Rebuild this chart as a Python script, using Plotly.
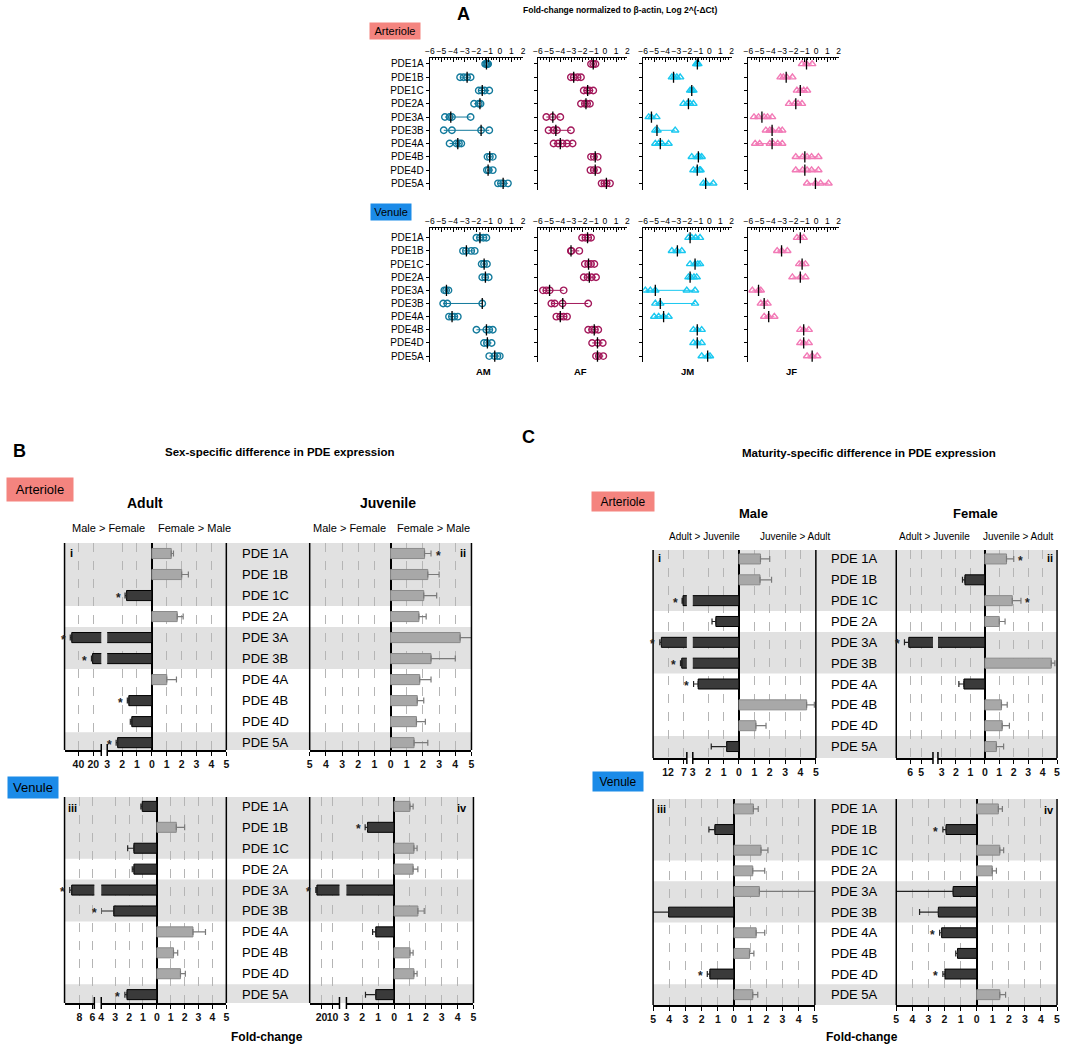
import math
import plotly.graph_objects as go

W, H = 1065, 1046
FONT = "Liberation Sans, Arial, sans-serif"

# ---------------- data ----------------
genes_a = ["PDE1A", "PDE1B", "PDE1C", "PDE2A", "PDE3A", "PDE3B", "PDE4A", "PDE4B", "PDE4D", "PDE5A"]
genes_b = ["PDE 1A", "PDE 1B", "PDE 1C", "PDE 2A", "PDE 3A", "PDE 3B", "PDE 4A", "PDE 4B", "PDE 4D", "PDE 5A"]
groups = ["AM", "AF", "JM", "JF"]
ticks_a = [-6, -5, -4, -3, -2, -1, 0, 1, 2]

# Panel A - arteriole (log2 fold change, individual animals and mean)
art_am_pts = [[-1.25, -1.15, -1.05, -1.0], [-3.4, -3.1, -2.8, -2.5], [-1.8, -1.55, -1.3, -0.9], [-2.2, -1.8, -1.65],
              [-4.7, -4.3, -4.1, -2.5], [-4.8, -4.1, -1.6, -0.9], [-4.3, -3.7, -3.5, -3.3], [-1.05, -0.85, -0.6],
              [-1.1, -0.95, -0.6], [-0.15, 0.1, 0.3, 0.7]]
art_am_mean = [-1.14, -2.8, -1.5, -1.7, -4.2, -1.6, -3.6, -0.86, -1.0, 0.29]
art_af_pts = [[-1.25, -1.05, -0.85], [-3.05, -2.8, -2.45, -2.15], [-1.9, -1.6, -1.4, -1.05], [-2.15, -1.8, -1.6, -1.35],
              [-5.25, -4.7, -4.0], [-5.05, -4.6, -4.3, -3.05], [-4.6, -4.2, -3.8, -3.4, -2.9], [-1.25, -1.0, -0.65],
              [-1.3, -1.0, -0.65], [-0.3, -0.05, 0.15, 0.45]]
art_af_mean = [-1.05, -2.8, -1.55, -1.7, -4.67, -4.4, -4.0, -0.87, -0.87, 0.13]
art_jm_pts = [[-1.2, -1.1, -1.0], [-3.4, -3.2, -2.95, -2.65], [-1.75, -1.6, -1.45], [-2.35, -2.0, -1.75, -1.45],
              [-5.5, -5.25, -4.8], [-4.9, -4.7, -3.1], [-4.9, -4.6, -4.3, -3.7], [-1.6, -1.1, -0.9, -0.7],
              [-1.45, -1.15, -0.9, -0.8], [-0.55, -0.3, 0.35]]
art_jm_mean = [-1.09, -3.25, -1.6, -1.9, -5.25, -4.75, -4.45, -1.0, -1.1, -0.34]
art_jf_pts = [[-1.25, -0.85, -0.35], [-3.15, -2.9, -2.6, -2.1], [-1.7, -1.4, -1.1, -0.8], [-2.4, -1.9, -1.6, -1.25],
              [-5.5, -5.1, -4.6, -4.3, -3.9], [-4.45, -4.1, -3.9, -3.3, -3.0], [-5.4, -5.0, -4.1, -3.8, -3.4, -3.0],
              [-1.8, -1.2, -0.8, -0.4, 0.2], [-1.8, -1.2, -0.8, -0.4, 0.2], [-0.8, -0.05, 0.4, 1.1]]
art_jf_mean = [-0.85, -2.65, -1.4, -1.8, -4.8, -3.9, -3.9, -1.0, -1.0, -0.06]

# Panel A - venule
ven_am_pts = [[-2.0, -1.7, -1.4, -1.15], [-3.15, -2.9, -2.45, -2.15], [-1.55, -1.35, -1.1], [-1.5, -1.25, -0.95],
              [-4.75, -4.6, -4.4], [-4.85, -4.5, -1.5], [-4.35, -4.1, -3.9, -3.6], [-2.0, -1.15, -0.9, -0.6],
              [-1.35, -1.1, -0.7], [-0.9, -0.45, -0.2, 0.0]]
ven_am_mean = [-1.7, -2.86, -1.34, -1.23, -4.57, -1.5, -4.09, -1.14, -1.06, -0.43]
ven_af_pts = [[-2.05, -1.75, -1.5, -1.25], [-3.05, -3.0, -2.3], [-1.8, -1.5, -1.25, -0.95], [-1.9, -1.55, -1.2, -0.8],
              [-5.55, -5.25, -4.95, -3.7], [-4.8, -4.5, -3.8, -1.5], [-4.35, -4.0, -3.7, -3.4], [-1.5, -1.15, -0.9, -0.6],
              [-1.15, -0.65, -0.2], [-0.8, -0.55, -0.15]]
ven_af_mean = [-1.56, -3.04, -1.47, -1.4, -4.96, -3.78, -4.0, -0.96, -0.67, -0.67]
ven_jm_pts = [[-1.9, -1.6, -1.25, -0.85], [-3.4, -2.95, -2.5], [-1.75, -1.3, -1.05, -0.85], [-1.9, -1.7, -1.4, -1.15],
              [-5.8, -5.35, -4.9, -2.05, -1.3], [-4.9, -4.45, -1.3], [-5.0, -4.6, -4.15, -3.7], [-1.45, -1.1, -0.7],
              [-1.45, -1.1, -0.7], [-0.7, -0.15, 0.05]]
ven_jm_mean = [-1.75, -2.9, -1.3, -1.75, -4.9, -4.45, -4.15, -1.1, -1.1, -0.16]
ven_jf_pts = [[-1.7, -1.4, -1.1], [-3.45, -3.05, -2.55], [-1.5, -1.25, -0.95], [-2.1, -1.4, -0.95],
              [-5.65, -5.1, -4.9], [-4.9, -4.6, -4.3], [-4.6, -4.2, -3.7], [-1.4, -1.1, -0.65],
              [-1.4, -1.1, -0.65], [-0.8, -0.35, 0.1]]
ven_jf_mean = [-1.4, -3.06, -1.24, -1.4, -5.1, -4.6, -4.2, -1.1, -1.1, -0.35]

# Panel B - sex-specific fold change (negative = Male > Female)
b_art_adult_val = [1.3, 2.0, -1.7, 1.7, -49.0, -21.0, 1.0, -1.55, -1.35, -2.3]
b_art_adult_err = [0.15, 0.45, 0.1, 0.4, 2.0, 1.5, 0.65, 0.1, 0.1, 0.1]
b_art_adult_sig = [0, 0, 1, 0, 1, 1, 0, 1, 0, 1]
b_art_juv_val = [2.1, 2.3, 2.05, 1.75, 4.3, 2.5, 1.8, 1.65, 1.6, 1.45]
b_art_juv_err = [0.4, 0.7, 0.8, 0.45, 1.5, 1.5, 0.7, 0.4, 0.55, 0.85]
b_art_juv_sig = [1, 0, 0, 0, 0, 0, 0, 0, 0, 0]
b_ven_adult_val = [-1.05, 1.4, -1.65, -1.65, -9.2, -3.1, 2.6, 1.2, 1.7, -2.15]
b_ven_adult_err = [0.1, 0.6, 0.45, 0.12, 0.3, 0.9, 0.9, 0.3, 0.35, 0.15]
b_ven_adult_sig = [0, 0, 0, 0, 1, 1, 0, 0, 0, 1]
b_ven_juv_val = [1.0, -1.67, 1.25, 1.2, -24.3, 1.5, -1.15, 1.0, 1.25, -1.15]
b_ven_juv_err = [0.2, 0.15, 0.2, 0.3, 1.0, 0.4, 0.2, 0.2, 0.2, 0.65]
b_ven_juv_sig = [0, 1, 0, 0, 1, 0, 0, 0, 0, 0]

# Panel C - maturity-specific fold change (negative = Adult > Juvenile)
c_art_male_val = [1.4, 1.37, -7.3, -1.5, -14.1, -7.7, -2.65, 4.4, 1.1, -0.8]
c_art_male_err = [0.6, 0.75, 0.3, 0.25, 0.5, 0.4, 0.3, 0.5, 0.66, 1.0]
c_art_male_sig = [0, 0, 1, 0, 1, 1, 1, 0, 0, 0]
c_art_fem_val = [1.5, -1.38, 1.9, 1.0, -6.14, 4.6, -1.45, 1.15, 1.2, 0.8]
c_art_fem_err = [0.5, 0.17, 0.6, 0.4, 0.4, 0.25, 0.35, 0.4, 0.5, 0.5]
c_art_fem_sig = [1, 0, 1, 0, 1, 0, 0, 0, 0, 0]
c_ven_male_val = [1.2, -1.18, 1.67, 1.16, 1.57, -4.04, 1.37, 0.96, -1.49, 1.16]
c_ven_male_err = [0.3, 0.37, 0.43, 0.74, 6.0, 2.0, 0.53, 0.27, 0.16, 0.31]
c_ven_male_sig = [0, 0, 0, 0, 0, 0, 0, 0, 1, 0]
c_ven_fem_val = [1.35, -1.9, 1.44, 0.97, -1.46, -2.38, -2.18, -1.19, -1.97, 1.44]
c_ven_fem_err = [0.25, 0.2, 0.24, 0.26, 6.0, 1.17, 0.12, 0.11, 0.13, 0.36]
c_ven_fem_sig = [0, 1, 0, 0, 0, 0, 1, 0, 1, 0]

# ---------------- helpers ----------------
def px(x):
    return x / W


def py(y):
    return 1 - y / H


fig = go.Figure()
lay = {}
cnt = {"x": 0, "y": 0}
anns = []
shapes = []


def new_axis(kind, spec):
    cnt[kind] += 1
    n = cnt[kind]
    key = f"{kind}axis" if n == 1 else f"{kind}axis{n}"
    lay[key] = spec
    return (kind if n == 1 else f"{kind}{n}"), key


def txt(s, x, y, size=11, bold=False, xanchor="center", **kw):
    anns.append(dict(text=f"<b>{s}</b>" if bold else s, x=px(x), y=py(y), xref="paper", yref="paper",
                     showarrow=False, xanchor=xanchor, yanchor="middle",
                     font=dict(size=size, color="black", family=FONT), **kw))


def vline(x, y0, y1, width=1.5):
    shapes.append(dict(type="line", xref="paper", yref="paper", x0=px(x), x1=px(x), y0=py(y0), y1=py(y1),
                       line=dict(color="black", width=width)))


# ---------------- Panel A ----------------
A_cols = [(428, 522), (537, 627), (643, 732), (749, 840)]
A_rows = [
    (58, 190, [9.5, -0.45], [art_am_pts, art_af_pts, art_jm_pts, art_jf_pts],
     [art_am_mean, art_af_mean, art_jm_mean, art_jf_mean]),
    (228, 362, [9.45, -0.74], [ven_am_pts, ven_af_pts, ven_jm_pts, ven_jf_pts],
     [ven_am_mean, ven_af_mean, ven_jm_mean, ven_jf_mean]),
]
A_colors = ["#137a9c", "#a3195b", "#19c8f0", "#f27ab6"]
A_symbols = ["circle-open", "circle-open", "triangle-up-open", "triangle-up-open"]

for top, bot, yr, pts_list, mean_list in A_rows:
    for g in range(4):
        x0, x1 = A_cols[g]
        xname, xkey = new_axis("x", dict(
            domain=[px(x0), px(x1)], range=[-6, 2], side="top", tickmode="array", tickvals=ticks_a,
            tickangle=0, ticks="inside", ticklen=4, tickcolor="black", tickwidth=1,
            minor=dict(ticks="inside", ticklen=2, dtick=0.25, tick0=-6, tickcolor="black", showgrid=False),
            showline=True, linecolor="black", linewidth=1.2, showgrid=False, zeroline=False,
            tickfont=dict(size=8.5, color="black", family=FONT)))
        yname, ykey = new_axis("y", dict(
            domain=[py(bot), py(top)], range=yr, tickmode="array", tickvals=list(range(10)), ticktext=genes_a,
            showticklabels=(g == 0), ticks="outside", ticklen=3, tickcolor="black",
            showline=True, linecolor="black", linewidth=1.2, showgrid=False, zeroline=False,
            tickfont=dict(size=10, color="black", family=FONT)))
        lay[xkey]["anchor"] = yname
        lay[ykey]["anchor"] = xname
        xs, ys = [], []
        for i, p in enumerate(pts_list[g]):
            xs += p + [None]
            ys += [i] * len(p) + [None]
        c = A_colors[g]
        fig.add_trace(go.Scatter(x=xs, y=ys, xaxis=xname, yaxis=yname, mode="lines+markers",
                                 line=dict(color=c, width=1),
                                 marker=dict(symbol=A_symbols[g], size=6.5, color=c, line=dict(width=1.4, color=c)),
                                 hoverinfo="skip"))
        fig.add_trace(go.Scatter(x=mean_list[g], y=list(range(10)), xaxis=xname, yaxis=yname, mode="markers",
                                 marker=dict(symbol="line-ns-open", size=8, color="black",
                                             line=dict(width=1.3, color="black")),
                                 hoverinfo="skip"))

txt("A", 462, 14, 18, bold=True)
txt("Fold-change normalized to β-actin, Log 2^(-ΔCt)", 620, 10, 8.5, bold=True)
txt("Arteriole", 393, 31, 11, bgcolor="#f4847f", borderpad=2, width=46, height=12)
txt("Venule", 389, 212, 11, bgcolor="#1b8be8", borderpad=2, width=36, height=12)
for g, cx in zip(groups, [482, 580, 688, 792]):
    txt(g, cx, 372, 9.5, bold=True)

# ---------------- Panels B & C ----------------
TICKFONT_B = dict(size=10.5, color="#111", family=FONT, weight="bold")


def bar_panel(vals, errs, sig, top, bot, yr, main, broken=None):
    yname, ykey = new_axis("y", dict(domain=[py(bot), py(top)], range=yr, visible=False, showgrid=False,
                                     zeroline=False))
    mx0, mx1, mrng = main
    tv = list(range(math.ceil(mrng[0]), math.floor(mrng[1]) + 1))
    xm, _ = new_axis("x", dict(
        domain=[px(mx0), px(mx1)], range=mrng, anchor=yname, tickmode="array", tickvals=tv,
        ticktext=[str(abs(t)) for t in tv], tickangle=0, ticks="outside", ticklen=4, tickcolor="black",
        showline=True, linecolor="black", linewidth=1.5, showgrid=True, gridcolor="#b5b5b5",
        griddash="dash", gridwidth=1, zeroline=True, zerolinecolor="black", zerolinewidth=1.5,
        tickfont=TICKFONT_B))
    xaxes = [xm]
    left = mx0
    xb = None
    if broken:
        bx0, bx1, brng, bticks = broken
        xb, _ = new_axis("x", dict(
            domain=[px(bx0), px(bx1)], range=brng, anchor=yname, tickmode="array", tickvals=bticks,
            ticktext=[str(abs(t)) for t in bticks], tickangle=0, ticks="outside", ticklen=4, tickcolor="black",
            showline=True, linecolor="black", linewidth=1.5, showgrid=True, gridcolor="#b5b5b5",
            griddash="dash", gridwidth=1, zeroline=False, tickfont=TICKFONT_B))
        xaxes.append(xb)
        left = bx0
        for bxp in (bx1, mx0):
            vline(bxp, bot - 6, bot + 6, 1.5)
    lay[ykey]["anchor"] = xaxes[-1]
    rows = list(range(len(vals)))
    neg_x = [v if v < 0 else None for v in vals]
    pos_x = [v if v >= 0 else None for v in vals]
    neg_e = [e if v < 0 else 0 for v, e in zip(vals, errs)]
    pos_e = [e if v >= 0 else 0 for v, e in zip(vals, errs)]
    zeros = [0] * len(vals)
    for xa in xaxes:
        fig.add_trace(go.Bar(x=neg_x, y=rows, orientation="h", xaxis=xa, yaxis=yname, width=0.48,
                             marker=dict(color="#3a3a3a", line=dict(color="black", width=1)),
                             error_x=dict(type="data", symmetric=False, array=zeros, arrayminus=neg_e,
                                          color="#222222", thickness=1.2, width=3),
                             hoverinfo="skip"))
        fig.add_trace(go.Bar(x=pos_x, y=rows, orientation="h", xaxis=xa, yaxis=yname, width=0.48,
                             marker=dict(color="#a8a8a8", line=dict(color="#8a8a8a", width=1)),
                             error_x=dict(type="data", symmetric=False, array=pos_e, arrayminus=zeros,
                                          color="#7a7a7a", thickness=1.2, width=3),
                             hoverinfo="skip"))
    for i, (v, e, s) in enumerate(zip(vals, errs, sig)):
        if not s:
            continue
        end = v - e if v < 0 else v + e
        xa = xb if (xb is not None and end < mrng[0]) else xm
        anns.append(dict(text="<b>*</b>", x=end, y=i, xref=xa, yref=yname, showarrow=False,
                         xshift=-7 if v < 0 else 7, yshift=-2, font=dict(size=12, color="#222", family=FONT)))
    vline(left, top, bot)
    vline(mx1, top, bot)
    return yname


def row_decor(yname, yr, x0, x1, label_x):
    bands = [(-0.5, 2.5), (3.5, 5.5), (8.5, 9.5)]
    for k, (b0, b1) in enumerate(bands):
        y0 = yr[1] if k == 0 else b0
        y1 = yr[0] if k == len(bands) - 1 else b1
        shapes.append(dict(type="rect", xref="paper", yref=yname, x0=px(x0), x1=px(x1), y0=y0, y1=y1,
                           fillcolor="#e1e1e1", line=dict(width=0), layer="below"))
    for i, gname in enumerate(genes_b):
        anns.append(dict(text=gname, x=px(label_x), y=i, xref="paper", yref=yname, showarrow=False,
                         xanchor="left", font=dict(size=13, color="black", family=FONT)))


# B arteriole
yb1 = bar_panel(b_art_adult_val, b_art_adult_err, b_art_adult_sig, 543, 750, [9.35, -0.5],
                (103, 223, [-3, 5]), (60, 97, [-58.7, -9.3], [-40, -20]))
bar_panel(b_art_juv_val, b_art_juv_err, b_art_juv_sig, 543, 750, [9.35, -0.5], (307, 470, [-5, 5]))
row_decor(yb1, [9.35, -0.5], 60, 470, 237)
# B venule
yb2 = bar_panel(b_ven_adult_val, b_ven_adult_err, b_ven_adult_sig, 797, 1003, [9.4, -0.45],
                (97, 223, [-4, 5]), (60, 90, [-10.3, -5.7], [-8, -6]))
bar_panel(b_ven_juv_val, b_ven_juv_err, b_ven_juv_sig, 797, 1003, [9.4, -0.45],
          (344, 472, [-3, 5]), (307, 337, [-30.9, -3.6], [-20, -10]))
row_decor(yb2, [9.4, -0.45], 60, 472, 237)
# C arteriole
yc1 = bar_panel(c_art_male_val, c_art_male_err, c_art_male_sig, 550, 758, [9.55, -0.43],
                (693, 817, [-3, 5]), (653, 687, [-16.7, -6.1], [-12, -7]))
bar_panel(c_art_fem_val, c_art_fem_err, c_art_fem_sig, 550, 758, [9.55, -0.43],
          (940, 1060, [-3.25, 5]), (898, 935, [-7.3, -3.9], [-6, -5]))
row_decor(yc1, [9.55, -0.43], 653, 1060, 830)
# C venule
yc2 = bar_panel(c_ven_male_val, c_ven_male_err, c_ven_male_sig, 799, 1005, [9.5, -0.48], (653, 816, [-5, 5]))
bar_panel(c_ven_fem_val, c_ven_fem_err, c_ven_fem_sig, 799, 1005, [9.5, -0.48], (898, 1060, [-5, 5]))
row_decor(yc2, [9.5, -0.48], 653, 1060, 830)

# ---- panel B texts
txt("B", 15, 451, 18, bold=True)
txt("Sex-specific difference in PDE expression", 277, 452, 11.5, bold=True)
txt("Arteriole", 35, 489, 13, bgcolor="#f4847f", borderpad=4, width=58, height=15)
txt("Adult", 141, 503, 14, bold=True)
txt("Juvenile", 386, 503, 14, bold=True)
txt("Male &gt; Female", 104, 528, 11)
txt("Female &gt; Male", 191, 528, 11)
txt("Male &gt; Female", 347, 528, 11)
txt("Female &gt; Male", 432, 528, 11)
txt("i", 67, 553, 11, bold=True)
txt("ii", 461, 553, 11, bold=True)
txt("Venule", 28, 787, 13, bgcolor="#1b8be8", borderpad=4, width=42, height=13)
txt("iii", 68, 808, 11, bold=True)
txt("iv", 460, 808, 11, bold=True)
txt("Fold-change", 264, 1037, 12, bold=True)

# ---- panel C texts
txt("C", 527, 437, 18, bold=True)
txt("Maturity-specific difference in PDE expression", 871, 453, 11.5, bold=True)
txt("Arteriole", 623, 502, 12, bgcolor="#f4847f", borderpad=3, width=56, height=13)
txt("Male", 754, 513, 13, bold=True)
txt("Female", 978, 513, 13, bold=True)
txt("Adult &gt; Juvenile", 705, 536, 10)
txt("Juvenile &gt; Adult", 796, 536, 10)
txt("Adult &gt; Juvenile", 937, 536, 10)
txt("Juvenile &gt; Adult", 1021, 536, 10)
txt("i", 659, 558, 11, bold=True)
txt("ii", 1053, 558, 11, bold=True)
txt("Venule", 618, 781, 12, bgcolor="#1b8be8", borderpad=3, width=44, height=13)
txt("iii", 661, 809, 11, bold=True)
txt("iv", 1052, 810, 11, bold=True)
txt("Fold-change", 863, 1037, 12, bold=True)

fig.update_layout(
    width=W, height=H, margin=dict(l=0, r=0, t=0, b=0), autosize=False,
    paper_bgcolor="white", plot_bgcolor="rgba(0,0,0,0)", showlegend=False, barmode="overlay",
    annotations=anns, shapes=shapes, font=dict(family=FONT, color="black"), **lay)

fig.write_html("out.html", config={"displayModeBar": False},
               post_script="document.body.style.margin='0px';document.body.style.overflow='hidden';")
